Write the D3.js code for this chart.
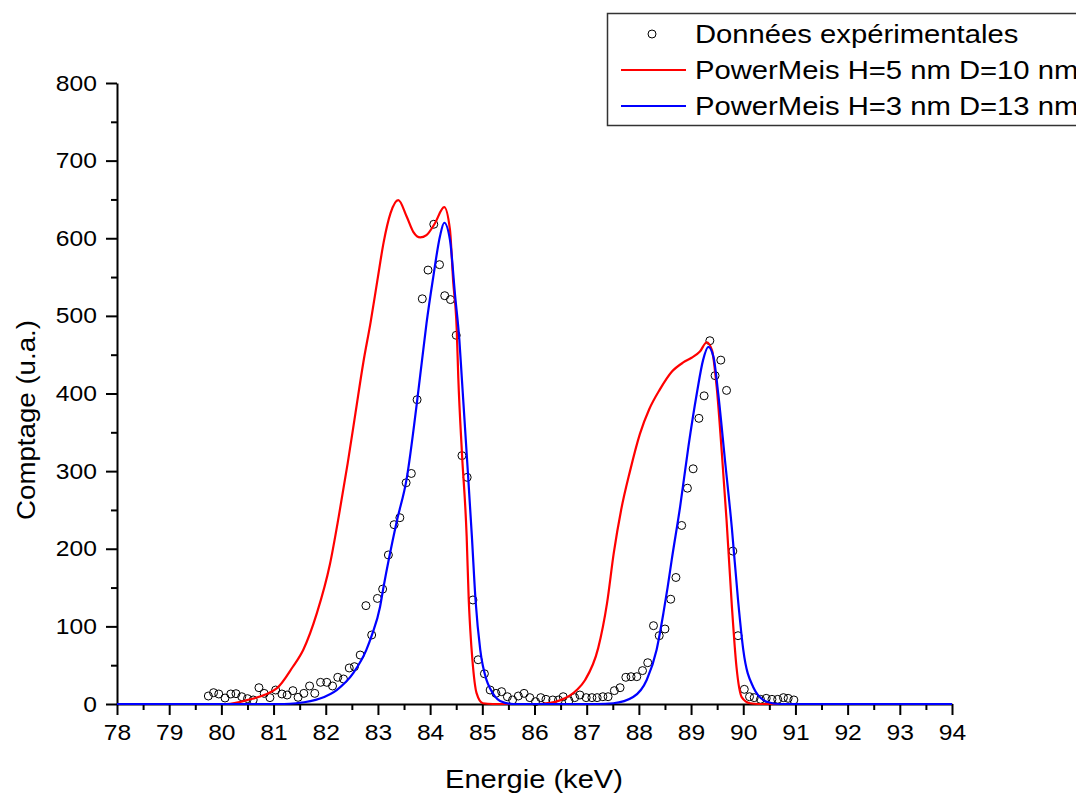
<!DOCTYPE html>
<html>
<head>
<meta charset="utf-8">
<script src="https://cdn.jsdelivr.net/npm/d3@7"></script>
<style>
  html, body { margin: 0; padding: 0; background: #fff; }
  svg { display: block; font-family: "Liberation Sans", Arial, sans-serif; }
</style>
</head>
<body>
<svg id="chart" width="1076" height="794"></svg>
<script>
// ---------- data ----------
const xTicks = [78,79,80,81,82,83,84,85,86,87,88,89,90,91,92,93,94];
const yTicks = [0,100,200,300,400,500,600,700,800];

const legendLabels = ["Données expérimentales", "PowerMeis H=5 nm D=10 nm", "PowerMeis H=3 nm D=13 nm"];

// experimental points (energy keV, counts)
const expX = [79.75,79.85,79.95,80.07,80.18,80.28,80.39,80.50,80.61,80.72,80.82,80.93,81.04,81.16,81.26,81.37,81.47,81.58,81.69,81.79,81.90,82.02,82.13,82.23,82.34,82.45,82.55,82.66,82.77,82.88,82.99,83.09,83.20,83.31,83.42,83.54,83.64,83.75,83.85,83.96,84.07,84.18,84.28,84.39,84.50,84.61,84.71,84.82,84.92,85.04,85.15,85.26,85.37,85.48,85.58,85.69,85.80,85.91,86.02,86.12,86.22,86.35,86.46,86.55,86.66,86.77,86.87,86.99,87.10,87.20,87.31,87.41,87.53,87.64,87.75,87.85,87.96,88.07,88.17,88.28,88.39,88.50,88.61,88.71,88.82,88.93,89.04,89.15,89.25,89.36,89.46,89.57,89.68,89.80,89.90,90.02,90.12,90.21,90.33,90.44,90.55,90.66,90.77,90.86,90.97];
const expY = [10.3,14.6,12.9,7.7,12.9,13.3,9.4,6.9,5.2,21.0,13.7,8.2,18.0,12.9,11.6,17.2,8.6,13.7,23.2,13.7,27.9,27.9,23.2,34.4,32.2,46.4,48.1,63.1,126.7,88.9,136,148,192,231,240,285,297,392,522,559,618,566,526,521,475,320,292,134,57,39,18,13.7,15.9,9.4,5.2,10.3,13.7,8.2,3.0,8.2,6.0,5.2,5.2,9.4,4.3,8.2,11.6,8.2,8.2,8.2,9.4,9.4,17.2,21,34.4,35.2,35.2,43,53.2,100.9,88,96.6,135,163,230,278,303,368,397,468,423,443,404,197,88,18.9,9.4,8.2,6,7.3,6,6,8.2,7.3,5.2];

// PowerMeis H=5 nm D=10 nm (red)
const redX = [78,80.1,80.49,81.06,81.37,81.57,81.83,82.08,82.25,82.42,82.57,82.72,82.86,82.99,83.11,83.24,83.39,83.55,83.68,83.81,83.93,84.09,84.27,84.38,84.44,84.51,84.54,84.61,84.70,84.74,84.77,84.81,84.89,85.01,85.2,86.1,86.50,86.81,86.97,87.22,87.39,87.52,87.66,87.83,88.02,88.20,88.40,88.63,88.85,89.01,89.17,89.30,89.40,89.49,89.59,89.68,89.78,89.87,89.97,90.13,90.3,94];
const redY = [0,0,5,20,48,70,117,180,242,310,375,440,492,546,595,632,649,628,608,601,604,619,640,611,546,482,420,323,216,134,95,57,14,1,0,0,5,18,31,72,130,195,250,300,348,380,405,428,440,446,454,466,456,409,323,237,128,48,9,1,0,0];

// PowerMeis H=3 nm D=13 nm (blue)
const blueX = [78,81.2,81.44,81.89,82.21,82.53,82.78,82.88,83.04,83.10,83.36,83.55,83.75,83.84,83.93,84.06,84.19,84.27,84.38,84.48,84.56,84.61,84.70,84.80,84.87,84.96,85.08,85.15,85.34,85.6,87.2,87.51,87.89,88.15,88.34,88.47,88.55,88.63,88.79,88.95,89.11,89.23,89.33,89.43,89.52,89.65,89.78,89.90,90.00,90.19,90.45,90.7,94];
const blueY = [0,0,1,7,18,40,70,88,125,148,235,290,390,440,490,550,603,620,598,525,469,417,323,216,134,70,31,20,4,0,0,1,9,31,70,117,150,186,254,332,400,443,460,447,400,314,228,134,70,22,3,0,0];

// ---------- drawing ----------
const svg = d3.select("#chart");
const x = d3.scaleLinear().domain([78, 94]).range([117, 952]);
const y = d3.scaleLinear().domain([0, 800]).range([704, 83]);

const font = "'Liberation Sans', Arial, sans-serif";

// minor ticks
svg.append("g")
  .attr("transform", "translate(0,704)")
  .call(d3.axisBottom(x).tickValues(d3.range(78.5, 94, 1)).tickSize(6).tickSizeOuter(0).tickFormat(""))
  .call(g => g.select(".domain").remove())
  .call(g => g.selectAll("line").attr("stroke", "#000").attr("stroke-width", 2));
svg.append("g")
  .attr("transform", "translate(117,0)")
  .call(d3.axisLeft(y).tickValues(d3.range(50, 800, 100)).tickSize(6).tickSizeOuter(0).tickFormat(""))
  .call(g => g.select(".domain").remove())
  .call(g => g.selectAll("line").attr("stroke", "#000").attr("stroke-width", 2));

// major x axis
const gx = svg.append("g")
  .attr("transform", "translate(0,704)")
  .call(d3.axisBottom(x).tickValues(xTicks).tickSize(11).tickSizeOuter(0).tickPadding(9).tickFormat(d3.format("d")));
gx.select(".domain").attr("stroke", "#000").attr("stroke-width", 2);
gx.selectAll("line").attr("stroke", "#000").attr("stroke-width", 2);
gx.selectAll("text").attr("font-family", font).attr("font-size", 22).attr("fill", "#000")
  .attr("transform", "scale(1.12,1)");

// major y axis
const gy = svg.append("g")
  .attr("transform", "translate(117,0)")
  .call(d3.axisLeft(y).tickValues(yTicks).tickSize(11).tickSizeOuter(0).tickPadding(6).tickFormat(d3.format("d")));
gy.select(".domain").attr("stroke", "#000").attr("stroke-width", 2);
gy.selectAll("line").attr("stroke", "#000").attr("stroke-width", 2);
gy.selectAll("text").attr("font-family", font).attr("font-size", 22).attr("fill", "#000")
  .attr("x", -18).attr("transform", "scale(1.12,1)");

// axis titles
svg.append("text")
  .attr("x", 534).attr("y", 788)
  .attr("text-anchor", "middle")
  .attr("font-family", font).attr("font-size", 25)
  .attr("textLength", 178).attr("lengthAdjust", "spacingAndGlyphs")
  .text("Energie (keV)");
svg.append("text")
  .attr("transform", "translate(35,420) rotate(-90)")
  .attr("text-anchor", "middle")
  .attr("font-family", font).attr("font-size", 25)
  .attr("textLength", 200).attr("lengthAdjust", "spacingAndGlyphs")
  .text("Comptage (u.a.)");

// experimental points
const pts = expX.map((v, i) => ({ x: v, y: expY[i] }));
svg.append("g").selectAll("circle")
  .data(pts).join("circle")
  .attr("cx", d => x(d.x)).attr("cy", d => y(d.y)).attr("r", 4)
  .attr("fill", "none").attr("stroke", "#000").attr("stroke-width", 1);

// curves
const line = d3.line().x(d => x(d.x)).y(d => y(d.y)).curve(d3.curveMonotoneX);
const redPts = redX.map((v, i) => ({ x: v, y: redY[i] }));
const bluePts = blueX.map((v, i) => ({ x: v, y: blueY[i] }));
svg.append("path").datum(redPts).attr("d", line)
  .attr("fill", "none").attr("stroke", "#ff0000").attr("stroke-width", 2.2);
svg.append("path").datum(bluePts).attr("d", line)
  .attr("fill", "none").attr("stroke", "#0000ff").attr("stroke-width", 2.2);

// legend
const lg = svg.append("g");
lg.append("rect")
  .attr("x", 607.5).attr("y", 13.5).attr("width", 520).attr("height", 112)
  .attr("fill", "#fff").attr("stroke", "#333").attr("stroke-width", 1.5);
lg.append("circle").attr("cx", 652).attr("cy", 34).attr("r", 4)
  .attr("fill", "none").attr("stroke", "#000").attr("stroke-width", 1);
lg.append("line").attr("x1", 621).attr("x2", 686).attr("y1", 70).attr("y2", 70)
  .attr("stroke", "#ff0000").attr("stroke-width", 2.2);
lg.append("line").attr("x1", 621).attr("x2", 686).attr("y1", 106).attr("y2", 106)
  .attr("stroke", "#0000ff").attr("stroke-width", 2.2);
const lgY = [43, 79, 115];
legendLabels.forEach((t, i) => {
  lg.append("text")
    .attr("x", 695 / 1.17).attr("y", lgY[i])
    .attr("transform", "scale(1.17,1)")
    .attr("font-family", font).attr("font-size", 25).attr("fill", "#000")
    .text(t);
});
</script>
</body>
</html>
